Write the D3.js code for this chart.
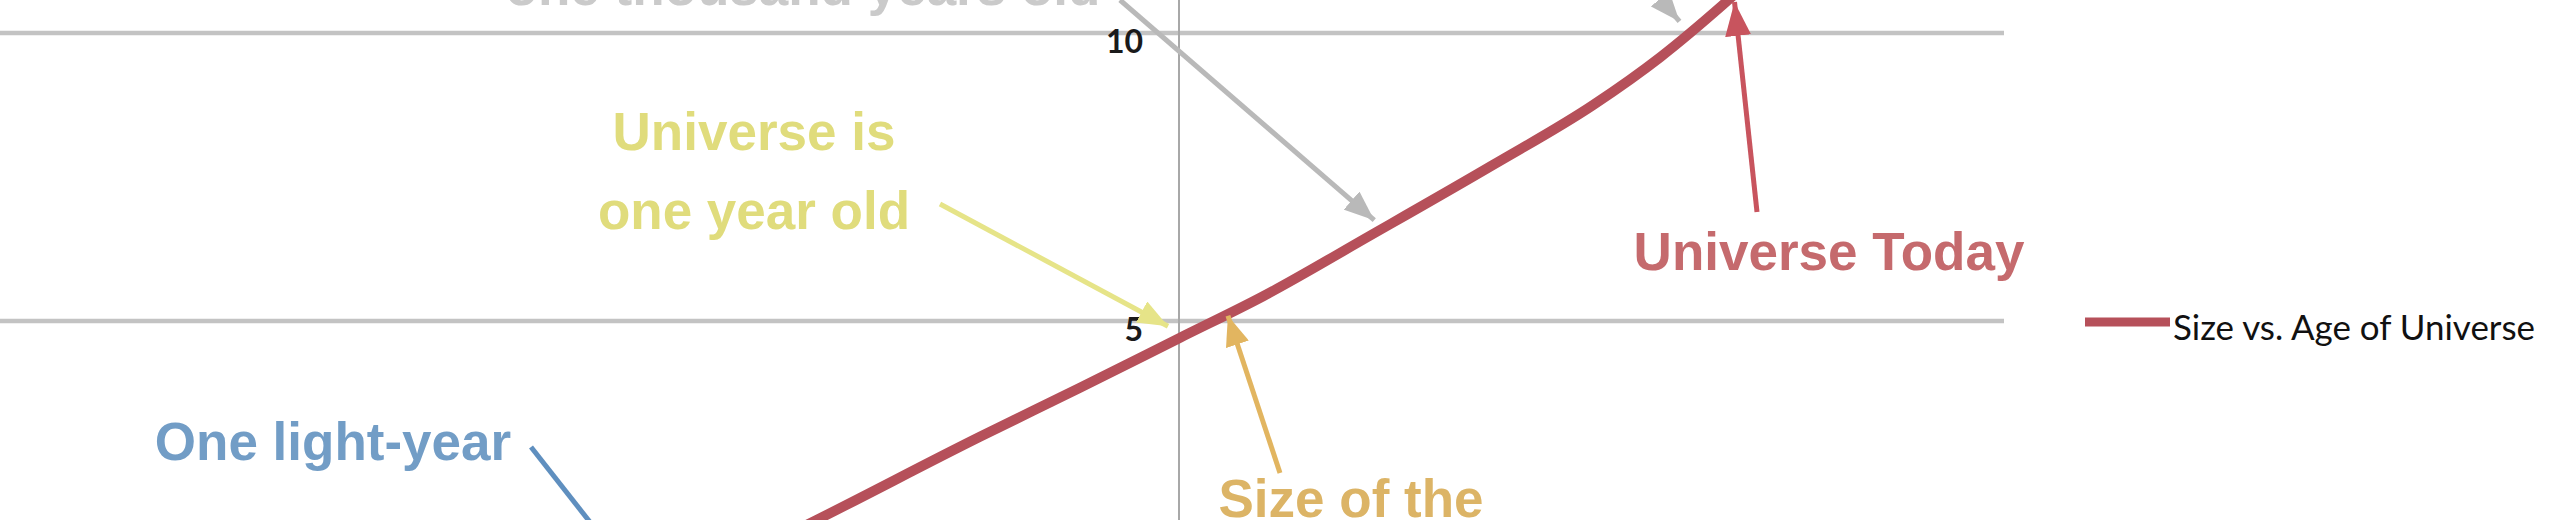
<!DOCTYPE html>
<html lang="en">
<head>
<meta charset="UTF-8">
<title>Size vs. Age of Universe</title>
<script src="https://d3js.org/d3.v7.min.js"></script>
<style>
  html, body { margin: 0; padding: 0; background: #fff; overflow: hidden; }
  .note { font-family: "Liberation Sans", Arial, sans-serif; font-weight: bold; font-size: 53px; }
</style>
</head>
<body>
<div id="chart"></div>
<script>
// log10(age of universe, years) vs log10(size, light-years)
const ageLog  = [-7.0, -6.58, -3.62, -1.80, 0.02, 1.53, 3.47, 5.71, 7.53, 8.75, 9.89, 10.15];
const sizeLog = [1.35, 1.55, 2.99, 3.84, 4.71, 5.43, 6.48, 7.71, 8.75, 9.58, 10.49, 10.71];
const yTicks = [0, 5, 10, 15];
const seriesName = "Size vs. Age of Universe";

// callouts: text lines + the point on the curve they point at
const notes = [
  { lines: ["Universe is", "one thousand years old"], color: "#cacaca", arrow: "#b9b9b9", tip: [3.55, 6.75] },
  { lines: ["Universe is", "one year old"],            color: "#e0dc7c", arrow: "#e6e488", tip: [-0.2, 4.91] },
  { lines: ["Universe Today"],                          color: "#c56a6d", arrow: "#c8545e", tip: [10.1, 10.54] },
  { lines: ["One light-year"],                          color: "#729dc6", arrow: "#5f8fbf", tip: [-9.6, 0.16] },
  { lines: ["Size of the", "Universe"],                 color: "#dcb466", arrow: "#e2b560", tip: [0.89, 5.09] }
];
// where each callout sits on the page (text centre x, first baseline, arrow tail)
const noteLayout = [
  { x: 803,  y: -74, tail: [1120, 0] },
  { x: 754,  y: 150, tail: [940, 204] },
  { x: 1829, y: 270, tail: [1757, 212] },
  { x: 333,  y: 460, tail: [531, 447] },
  { x: 1351, y: 517, tail: [1280, 473] }
];

const W = 2560, H = 520;
const svg = d3.select("#chart").append("svg")
  .attr("width", W).attr("height", H);

const x = d3.scaleLinear().domain([-25, 15]).range([-196, 2004]);
const y = d3.scaleLinear().domain([0, 15]).range([609, 609 - 15 * 57.6]);

const defs = svg.append("defs");
function marker(id, color, len, wid) {
  defs.append("marker")
    .attr("id", id)
    .attr("markerUnits", "userSpaceOnUse")
    .attr("viewBox", `0 0 ${len} ${wid}`)
    .attr("refX", len).attr("refY", wid / 2)
    .attr("markerWidth", len).attr("markerHeight", wid)
    .attr("orient", "auto")
    .append("path")
    .attr("d", `M0,0L${len},${wid / 2}L0,${wid}Z`)
    .attr("fill", color);
}

// gridlines
svg.append("g")
  .selectAll("line")
  .data(yTicks)
  .join("line")
  .attr("x1", x.range()[0]).attr("x2", x.range()[1])
  .attr("y1", d => y(d)).attr("y2", d => y(d))
  .attr("stroke", "#c3c3c3")
  .attr("stroke-width", 4.5);

// vertical axis through x = 0
svg.append("line")
  .attr("x1", x(0)).attr("x2", x(0))
  .attr("y1", y.range()[0]).attr("y2", y.range()[1])
  .attr("stroke", "#a8a8a8")
  .attr("stroke-width", 2);

svg.append("g")
  .selectAll("text")
  .data(yTicks.filter(d => d > 0))
  .join("text")
  .attr("x", x(0) - 36)
  .attr("y", d => y(d) + 20)
  .attr("text-anchor", "end")
  .attr("font-family", "Lato, 'Open Sans', sans-serif")
  .attr("font-size", 32)
  .attr("font-weight", "bold")
  .attr("fill", "#1a1a1a")
  .text(d => d);

// the series
const pts = ageLog.map((a, i) => [a, sizeLog[i]]);
svg.append("path")
  .datum(pts)
  .attr("fill", "none")
  .attr("stroke", "#b6505a")
  .attr("stroke-width", 10)
  .attr("stroke-linecap", "round")
  .attr("d", d3.line().x(d => x(d[0])).y(d => y(d[1])).curve(d3.curveMonotoneX));

// callout arrows
notes.forEach((n, i) => {
  const id = "ah" + i;
  marker(id, n.arrow, i === 2 ? 34 : 30, i === 2 ? 26 : 24);
  const t = noteLayout[i].tail;
  svg.append("line")
    .attr("x1", t[0]).attr("y1", t[1])
    .attr("x2", x(n.tip[0])).attr("y2", y(n.tip[1]))
    .attr("stroke", n.arrow)
    .attr("stroke-width", 5)
    .attr("marker-end", i === 3 ? null : `url(#${id})`);
});

// second grey callout, only its arrow head shows at the top edge
marker("ahTop", "#b9b9b9", 30, 24);
svg.append("line")
  .attr("x1", 1610).attr("y1", -60)
  .attr("x2", x(9.1)).attr("y2", y(10.2))
  .attr("stroke", "#b9b9b9")
  .attr("stroke-width", 5)
  .attr("marker-end", "url(#ahTop)");

// callout text
notes.forEach((n, i) => {
  const L = noteLayout[i];
  const t = svg.append("text")
    .attr("class", "note")
    .attr("text-anchor", "middle")
    .attr("fill", n.color);
  n.lines.forEach((s, k) => {
    t.append("tspan").attr("x", L.x).attr("y", L.y + k * 79).text(s);
  });
});

// legend
const lg = svg.append("g").attr("transform", "translate(2085,322)");
lg.append("line")
  .attr("x1", 0).attr("x2", 85)
  .attr("stroke", "#b6505a")
  .attr("stroke-width", 9);
lg.append("text")
  .attr("x", 88).attr("y", 18)
  .attr("font-family", "Lato, 'Open Sans', sans-serif")
  .attr("font-size", 35)
  .attr("fill", "#111")
  .attr("textLength", 362)
  .attr("lengthAdjust", "spacingAndGlyphs")
  .text(seriesName);
</script>
</body>
</html>
